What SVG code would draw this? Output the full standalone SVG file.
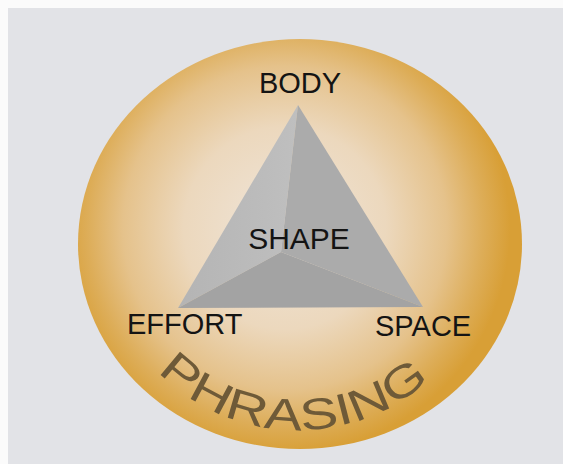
<svg xmlns="http://www.w3.org/2000/svg" width="563" height="464" viewBox="0 0 563 464">
<style>
.lbl{font-family:"Liberation Sans",Arial,sans-serif;fill:#141414;}
.phr{font-family:"Liberation Sans",Arial,sans-serif;fill:#6e5a38;font-size:44px;}
</style>
<defs>
<radialGradient id="disc" cx="285" cy="228" r="225" gradientUnits="userSpaceOnUse">
<stop offset="0" stop-color="#efe5da"/>
<stop offset="0.45" stop-color="#ecd8bd"/>
<stop offset="0.72" stop-color="#e5c28b"/>
<stop offset="0.88" stop-color="#ddad58"/>
<stop offset="1" stop-color="#d89f36"/>
</radialGradient>
<linearGradient id="leftFace" x1="0" y1="0" x2="1" y2="0">
<stop offset="0" stop-color="#b4b4b4"/>
<stop offset="1" stop-color="#bfbfbf"/>
</linearGradient>
<path id="arc" d="M 101 233 A 197 197 0 0 0 495 233"/>
</defs>
<rect x="0" y="0" width="563" height="464" fill="#fbfbfb"/>
<rect x="8" y="8" width="555" height="456" fill="#e2e3e7"/>
<g id="phrasing-disc">
<ellipse cx="300" cy="244" rx="222" ry="205" fill="url(#disc)"/>
<text class="phr"><textPath href="#arc" startOffset="49%" text-anchor="middle" textLength="300" lengthAdjust="spacingAndGlyphs">PHRASING</textPath></text>
</g>
<g id="shape-triangle">
<polygon points="298,105 178,308 281,252" fill="url(#leftFace)"/>
<polygon points="298,105 281,252 423,307" fill="#ababab"/>
<polygon points="178,308 281,252 423,307" fill="#a3a3a3"/>
<text class="lbl" x="299" y="249" font-size="30" text-anchor="middle">SHAPE</text>
</g>
<g id="body"><text class="lbl" x="300" y="93" font-size="29" text-anchor="middle">BODY</text></g>
<g id="effort"><text class="lbl" x="127" y="334" font-size="29">EFFORT</text></g>
<g id="space"><text class="lbl" x="375" y="336" font-size="29">SPACE</text></g>
<g id="connectors"/>
</svg>
